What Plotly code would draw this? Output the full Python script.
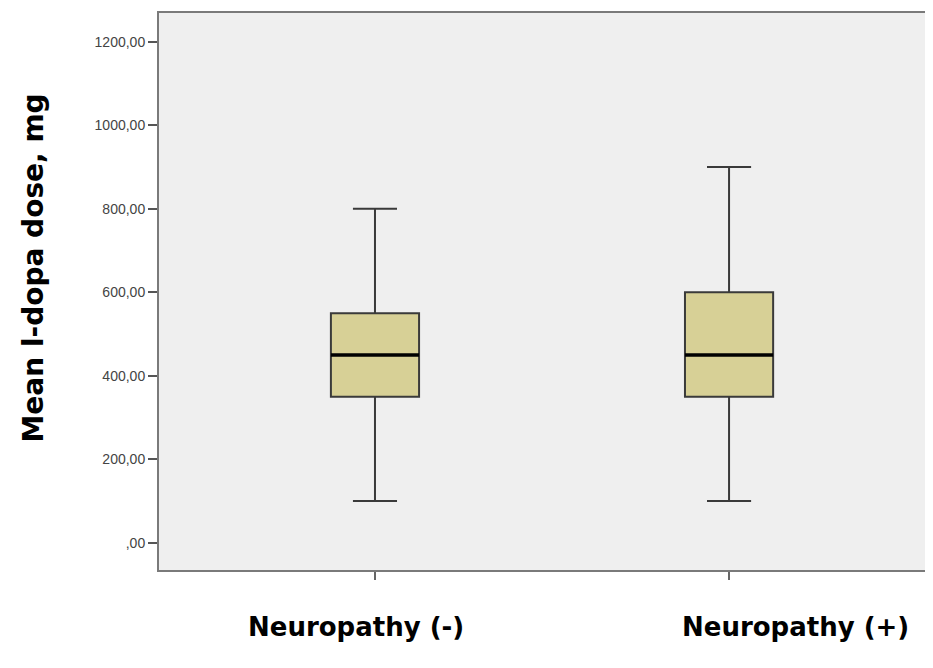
import plotly.graph_objects as go

categories = ["Neuropathy (-)", "Neuropathy (+)"]
lower_whisker = [100, 100]
q1 = [350, 350]
median = [450, 450]
q3 = [550, 600]
upper_whisker = [800, 900]
y_tick_vals = [0, 200, 400, 600, 800, 1000, 1200]
y_tick_text = [",00", "200,00", "400,00", "600,00", "800,00", "1000,00", "1200,00"]
label_shift = [-19, 66]

fig = go.Figure()
fig.add_trace(go.Box(
    x=categories,
    q1=q1, median=median, q3=q3,
    lowerfence=lower_whisker, upperfence=upper_whisker,
    width=0.249,
    whiskerwidth=0.5,
    fillcolor="#d7d096",
    line=dict(color="#3a3a3a", width=2),
    boxpoints=False,
    showlegend=False,
))

# thick black medians drawn over the box
for i, c in enumerate(categories):
    fig.add_shape(type="line", xref="x", yref="y",
                  x0=i - 0.1245, x1=i + 0.1245, y0=median[i], y1=median[i],
                  line=dict(color="#000000", width=3.5))

for i, c in enumerate(categories):
    fig.add_annotation(x=c, xref="x", y=0, yref="paper", yshift=-57,
                       yanchor="middle", xshift=label_shift[i],
                       text="<b>" + c + "</b>", showarrow=False,
                       font=dict(family="DejaVu Sans", size=26, color="#000000"))

fig.add_annotation(x=0, xref="paper", xshift=-126, y=0.5, yref="paper", yshift=23,
                   text="<b>Mean l-dopa dose, mg</b>", textangle=-90,
                   showarrow=False, xanchor="center", yanchor="middle",
                   font=dict(family="DejaVu Sans", size=28, color="#000000"))

fig.update_layout(
    width=925, height=644,
    margin=dict(l=151, r=0, t=5, b=82),
    paper_bgcolor="#ffffff",
    plot_bgcolor="#efefef",
    xaxis=dict(range=[-0.610, 1.576], showticklabels=False, ticks="outside",
               ticklen=8, tickcolor="#666666", tickwidth=1.5,
               showgrid=False, zeroline=False, showline=True, mirror=True,
               linecolor="#7a7a7a", linewidth=2),
    yaxis=dict(range=[-65, 1269], tickvals=y_tick_vals, ticktext=y_tick_text,
               ticks="outside", ticklen=9, tickcolor="#555555", tickwidth=1.5,
               tickfont=dict(family="Liberation Sans", size=14, color="#444444"),
               showgrid=False, zeroline=False, showline=True,
               linecolor="#7a7a7a", linewidth=2),
)

fig.write_html("out.html")
